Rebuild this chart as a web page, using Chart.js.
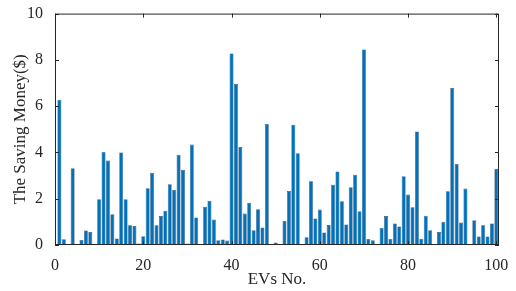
<!DOCTYPE html>
<html lang="en">
<head>
    <meta charset="UTF-8">
    <title>The Saving Money</title>
    <script src="https://cdn.jsdelivr.net/npm/chart.js"></script>
    <style>
        body { margin: 0; background: #fff; }
        canvas { display: block; }
    </style>
</head>
<body>
    <canvas id="grafico" width="516" height="291"></canvas>

    <script>
        // EV number on the x axis
        const evIds = Array.from({ length: 100 }, (_, i) => i + 1);
        // saving money per EV ($)
        const savings = [
            6.28, 0.25, 0, 3.32, 0, 0.22, 0.63, 0.56, 0, 1.98,
            4.02, 3.65, 1.33, 0.28, 4.0, 1.98, 0.85, 0.82, 0.07, 0.38,
            2.45, 3.12, 0.85, 1.25, 1.48, 2.62, 2.39, 3.9, 3.25, 0.07,
            4.34, 1.19, 0, 1.65, 1.9, 1.1, 0.21, 0.24, 0.19, 8.28,
            6.96, 4.23, 1.36, 1.83, 0.64, 1.55, 0.76, 5.23, 0, 0.11,
            0, 1.05, 2.33, 5.2, 3.97, 0, 0.33, 2.75, 1.15, 1.53,
            0.54, 0.86, 2.6, 3.18, 1.89, 0.89, 2.5, 3.04, 1.46, 8.45,
            0.26, 0.21, 0, 0.74, 1.25, 0.26, 0.93, 0.8, 2.97, 2.18,
            1.63, 4.91, 0.27, 1.26, 0.64, 0, 0.56, 1.0, 2.32, 6.78,
            3.5, 0.97, 2.44, 0, 1.07, 0.37, 0.85, 0.37, 0.93, 3.3
        ];
        const xTicks = [0, 20, 40, 60, 80, 100];
        const yTicks = [0, 2, 4, 6, 8, 10];

        const serif = 'Liberation Serif, Times New Roman, serif';

        // MATLAB style box with inward ticks
        const marco = {
            id: 'marco',
            afterDraw(chart) {
                const { ctx, chartArea: a, scales } = chart;
                ctx.save();
                ctx.strokeStyle = '#262626';
                ctx.lineWidth = 1;
                ctx.strokeRect(a.left + 0.5, a.top + 0.5, a.right - a.left - 1, a.bottom - a.top - 1);
                ctx.beginPath();
                xTicks.forEach(v => {
                    const px = Math.round(scales.x.getPixelForValue(v)) + 0.5;
                    ctx.moveTo(px, a.bottom); ctx.lineTo(px, a.bottom - 4);
                    ctx.moveTo(px, a.top); ctx.lineTo(px, a.top + 4);
                });
                yTicks.forEach(v => {
                    const py = Math.round(scales.y.getPixelForValue(v)) + 0.5;
                    ctx.moveTo(a.left, py); ctx.lineTo(a.left + 4, py);
                    ctx.moveTo(a.right, py); ctx.lineTo(a.right - 4, py);
                });
                ctx.stroke();
                ctx.restore();
            }
        };

        const ctx = document.getElementById('grafico').getContext('2d');
        const chart = new Chart(ctx, {
            type: 'bar',
            data: {
                datasets: [{
                    data: evIds.map((id, i) => ({ x: id, y: savings[i] })),
                    backgroundColor: '#0072BD',
                    borderColor: '#3b5670',
                    borderWidth: 0.6,
                    barPercentage: 0.9,
                    categoryPercentage: 1
                }]
            },
            options: {
                responsive: false,
                animation: false,
                layout: { padding: { top: 12, right: 17, left: 0, bottom: 0 } },
                plugins: { legend: { display: false }, tooltip: { enabled: false } },
                scales: {
                    x: {
                        type: 'linear',
                        offset: false,
                        min: 0,
                        max: 100.6,
                        afterBuildTicks: s => { s.ticks = xTicks.map(v => ({ value: v })); },
                        afterFit: s => { s.height = 46; },
                        grid: { display: false },
                        border: { display: false },
                        ticks: { color: '#262626', font: { family: serif, size: 16 }, padding: 3, maxRotation: 0, autoSkip: false },
                        title: { display: true, text: 'EVs No.', color: '#262626', font: { family: serif, size: 17 }, padding: { top: 0, bottom: 1 } }
                    },
                    y: {
                        min: 0,
                        max: 10,
                        afterBuildTicks: s => { s.ticks = yTicks.map(v => ({ value: v })); },
                        afterFit: s => { s.width = 55; },
                        grid: { display: false },
                        border: { display: false },
                        ticks: { color: '#262626', font: { family: serif, size: 16 }, padding: 4 },
                        title: { display: true, text: 'The Saving Money($)', color: '#262626', font: { family: serif, size: 17 }, padding: { top: 10, bottom: 0 } }
                    }
                }
            },
            plugins: [marco]
        });
    </script>
</body>
</html>
